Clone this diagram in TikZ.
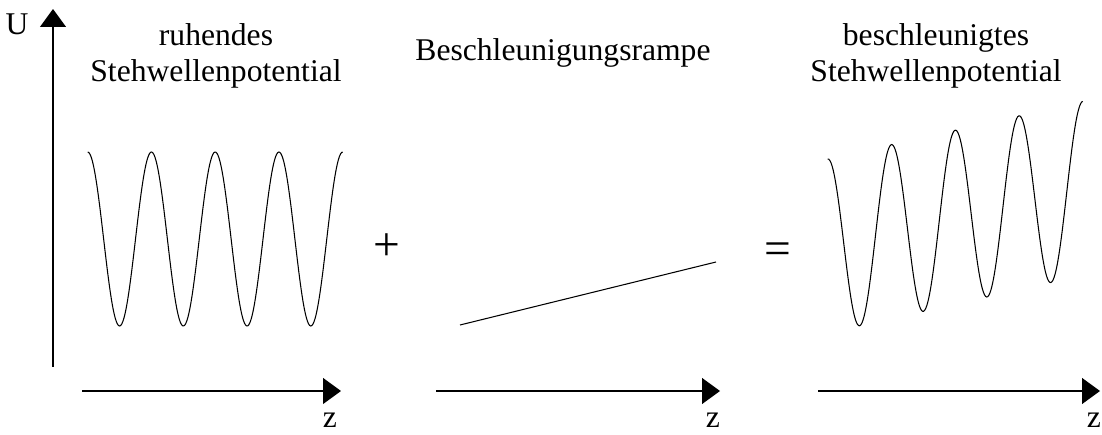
\documentclass[tikz,border=0pt]{standalone}
\usepackage{fontspec}
\setmainfont{Liberation Serif}
\usetikzlibrary{arrows.meta}

\tikzset{
  axis/.style={line width=0.7pt, -{Triangle[length=10.2pt, width=14.7pt]}},
  wave/.style={line width=0.6pt},
  title/.style={align=center, inner sep=0pt, anchor=base, font=\fontsize{18}{21}\selectfont},
  zlabel/.style={inner sep=0pt, anchor=base, font=\fontsize{18}{21}\selectfont},
  sign/.style={inner sep=0pt, font=\fontsize{27}{30}\selectfont}
}

\begin{document}
\begin{tikzpicture}[x=0.02cm, y=-0.02cm]
  \useasboundingbox (0,0) rectangle (1102,435);

  % potential axis
  \coordinate (u0) at (53,367);
  \coordinate (u1) at (53,9);
  \draw[axis] (u0) -- (u1);
  \node[zlabel] (U) at (17,35) {U};

  % z axes
  \foreach \a/\b/\zx/\n in {82/341/330/1, 436/720/713/2, 818/1100/1094/3} {
    \coordinate (z\n a) at (\a,391);
    \coordinate (z\n b) at (\b,391);
    \draw[axis] (z\n a) -- (z\n b);
    \node[zlabel] (z\n) at (\zx,427) {z};
  }

  % resting standing wave
  \draw[wave] plot[domain=0:255, samples=240, smooth] ({87.7+\x}, {239 - 87*cos(5.647*\x)});
  \node[title] (rest) at (216,82) {ruhendes\\Stehwellenpotential};

  \node[sign] (plus) at (387,247) {+};

  % ramp
  \coordinate (r0) at (460,325);
  \coordinate (r1) at (716,262);
  \draw[wave] (r0) -- (r1);
  \node[title] (ramp) at (563,61) {Beschleunigungsrampe};

  \node[sign] (equal) at (778,254) {=};

  % accelerated standing wave
  \draw[wave] plot[domain=0:255, samples=240, smooth] ({827.7+\x}, {246 - 0.226*\x - 87*cos(5.647*\x)});
  \node[title] (acc) at (936,82) {beschleunigtes\\Stehwellenpotential};
\end{tikzpicture}
\end{document}
